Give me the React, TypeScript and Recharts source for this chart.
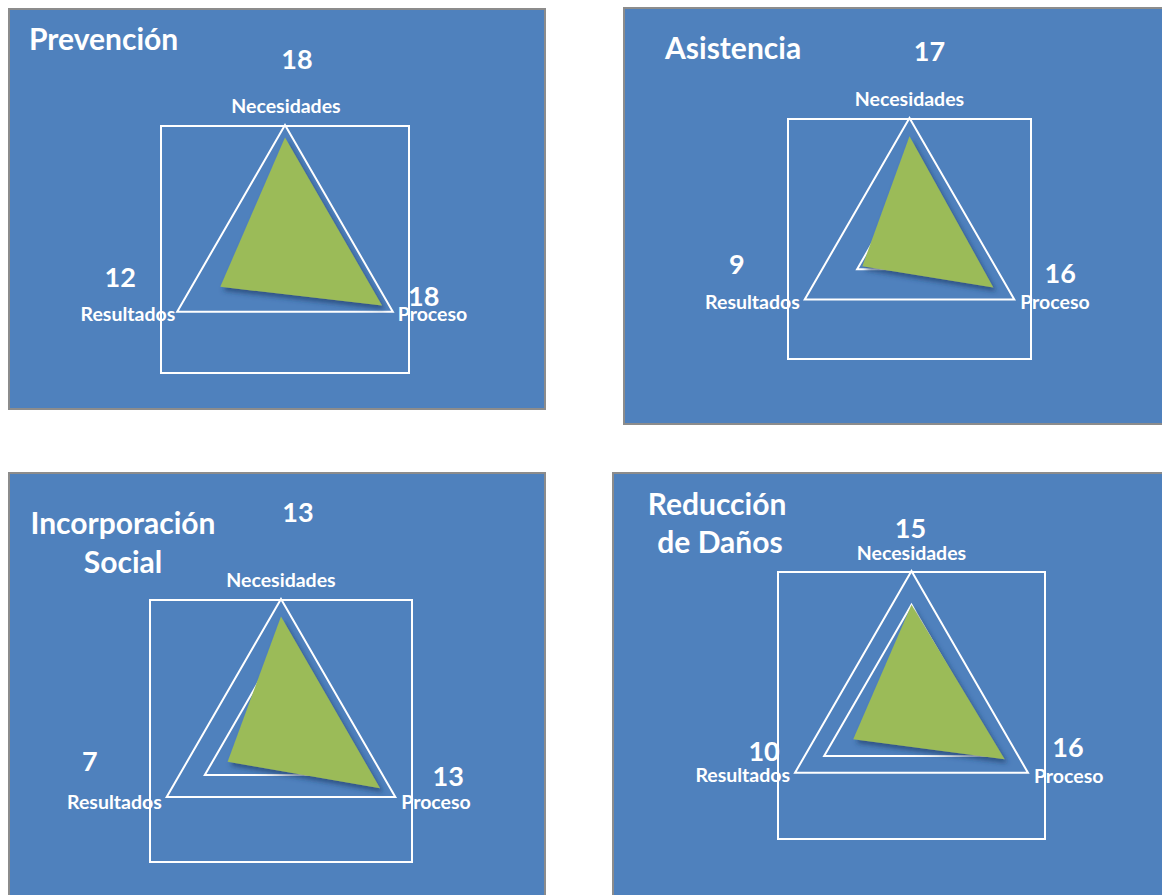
import React from 'react';
import { RadarChart, Radar, PolarGrid, PolarAngleAxis, PolarRadiusAxis } from 'recharts';

// ---------- DATA ----------
const categories = ['Necesidades', 'Proceso', 'Resultados'];

const prevencionValues = [18, 18, 12];
const asistenciaValues = [17, 16, 9];
const incorporacionValues = [13, 13, 7];
const reduccionValues = [15, 16, 10];

const prevencionTitle = ['Prevención'];
const asistenciaTitle = ['Asistencia'];
const incorporacionTitle = ['Incorporación', 'Social'];
const reduccionTitle = ['Reducción', 'de Daños'];

const prevencionTicks = [10, 20];
const asistenciaTicks = [10, 20];
const incorporacionTicks = [10, 15];
const reduccionTicks = [15, 20];

// ---------- STYLE / LAYOUT ----------
const BLUE = '#4F81BD';
const GREEN = '#9BBB59';
const FONT = 'Lato, "Open Sans", sans-serif';

type Off = { dx: number; dy: number };
type PanelLayout = {
  left: number; top: number; width: number; height: number;
  frame: { x: number; y: number; w: number; h: number };
  titleLines: { x: number; y: number; anchor: 'start' | 'middle' }[];
  labelOff: Off[];
  valueOff: Off[];
};

const anchors: ('middle' | 'start' | 'end')[] = ['middle', 'start', 'end'];

const layoutA: PanelLayout = {
  left: 8, top: 8, width: 538, height: 402,
  frame: { x: 160, y: 125, w: 250, h: 249 },
  titleLines: [{ x: 29, y: 38, anchor: 'start' }],
  labelOff: [{ dx: 1, dy: -12 }, { dx: -2, dy: -2 }, { dx: 5, dy: -2 }],
  valueOff: [{ dx: 12, dy: -59 }, { dx: 24, dy: -20 }, { dx: -50, dy: -39 }],
};
const layoutB: PanelLayout = {
  left: 623, top: 7, width: 560, height: 418,
  frame: { x: 787, y: 118, w: 245, h: 242 },
  titleLines: [{ x: 665, y: 47, anchor: 'start' }],
  labelOff: [{ dx: 0, dy: -12 }, { dx: -1, dy: -2 }, { dx: 2, dy: -2 }],
  valueOff: [{ dx: 20, dy: -60 }, { dx: 39, dy: -31 }, { dx: -61, dy: -40 }],
};
const layoutC: PanelLayout = {
  left: 8, top: 472, width: 538, height: 440,
  frame: { x: 149, y: 599, w: 264, h: 264 },
  titleLines: [{ x: 123, y: 522, anchor: 'middle' }, { x: 123, y: 561, anchor: 'middle' }],
  labelOff: [{ dx: 0, dy: -12 }, { dx: -1, dy: 0 }, { dx: 2, dy: 0 }],
  valueOff: [{ dx: 17, dy: -80 }, { dx: 46, dy: -26 }, { dx: -70, dy: -41 }],
};
const layoutD: PanelLayout = {
  left: 612, top: 472, width: 570, height: 440,
  frame: { x: 777, y: 571, w: 269, h: 269 },
  titleLines: [{ x: 717, y: 503, anchor: 'middle' }, { x: 720, y: 541, anchor: 'middle' }],
  labelOff: [{ dx: 0, dy: -11 }, { dx: -1, dy: -1 }, { dx: 2, dy: -2 }],
  valueOff: [{ dx: -1, dy: -36 }, { dx: 33, dy: -30 }, { dx: -24, dy: -26 }],
};

type PanelProps = {
  values: number[];
  title: string[];
  ticks: number[];
  layout: PanelLayout;
};

function Panel({ values, title, ticks, layout }: PanelProps) {
  const data = categories.map((c, i) => ({ category: c, value: values[i] }));
  const { left, top, width, height, frame } = layout;
  const cx = frame.x + frame.w / 2 - left;
  const cy = frame.y + frame.h / 2 - top;
  const R = Math.min(frame.w, frame.h) / 2;
  const max = ticks[ticks.length - 1];

  const renderTick = (props: any) => {
    const { x, y, payload } = props;
    const idx = categories.indexOf(payload.value);
    const lo = layout.labelOff[idx];
    const vo = layout.valueOff[idx];
    return (
      <g>
        <text
          x={x + lo.dx}
          y={y + lo.dy}
          textAnchor={anchors[idx]}
          dominantBaseline="central"
          fill="#FFFFFF"
          fontFamily={FONT}
          fontWeight={700}
          fontSize={19.5}
        >
          {payload.value}
        </text>
        <text
          x={x + vo.dx}
          y={y + vo.dy}
          textAnchor="middle"
          dominantBaseline="central"
          fill="#FFFFFF"
          fontFamily={FONT}
          fontWeight={700}
          fontSize={27}
        >
          {values[idx]}
        </text>
      </g>
    );
  };

  return (
    <div
      style={{
        position: 'absolute',
        left,
        top,
        width,
        height,
        background: BLUE,
        border: '2px solid #8C8C8C',
        boxSizing: 'border-box',
      }}
    >
      <div
        style={{
          position: 'absolute',
          left: frame.x - left - 2,
          top: frame.y - top - 2,
          width: frame.w,
          height: frame.h,
          border: '2px solid #FFFFFF',
          boxSizing: 'border-box',
        }}
      />
      <div style={{ position: 'absolute', left: -2, top: -2 }}>
        <RadarChart
          width={width}
          height={height}
          data={data}
          cx={cx}
          cy={cy}
          outerRadius={R}
          startAngle={90}
          endAngle={-270}
          margin={{ top: 0, right: 0, bottom: 0, left: 0 }}
          style={{ overflow: 'visible' }}
        >
          <PolarGrid gridType="polygon" radialLines={false} stroke="#FFFFFF" strokeWidth={2} strokeOpacity={1} />
          <PolarRadiusAxis
            type="number"
            domain={[0, max]}
            ticks={ticks}
            angle={90}
            tick={false}
            axisLine={false}
            tickLine={false}
          />
          <PolarAngleAxis dataKey="category" tick={renderTick} tickLine={false} axisLine={false} />
          <Radar
            dataKey="value"
            fill={GREEN}
            fillOpacity={1}
            stroke="none"
            filter="url(#greenShadow)"
            isAnimationActive={false}
          />
        </RadarChart>
      </div>
      <svg
        width={width}
        height={height}
        style={{ position: 'absolute', left: -2, top: -2, pointerEvents: 'none' }}
      >
        {title.map((t, i) => (
          <text
            key={t}
            x={layout.titleLines[i].x - left}
            y={layout.titleLines[i].y - top}
            textAnchor={layout.titleLines[i].anchor}
            dominantBaseline="central"
            fill="#FFFFFF"
            fontFamily={FONT}
            fontWeight={700}
            fontSize={30}
          >
            {t}
          </text>
        ))}
      </svg>
    </div>
  );
}

export default function App() {
  return (
    <div
      style={{
        position: 'absolute',
        left: 0,
        top: 0,
        width: 1162,
        height: 895,
        overflow: 'hidden',
        background: '#FFFFFF',
      }}
    >
      <svg width={0} height={0} style={{ position: 'absolute' }}>
        <defs>
          <filter id="greenShadow" x="-20%" y="-20%" width="140%" height="140%">
            <feDropShadow dx={3} dy={4} stdDeviation={2.5} floodColor="#1B3866" floodOpacity={0.65} />
          </filter>
        </defs>
      </svg>
      <Panel values={prevencionValues} title={prevencionTitle} ticks={prevencionTicks} layout={layoutA} />
      <Panel values={asistenciaValues} title={asistenciaTitle} ticks={asistenciaTicks} layout={layoutB} />
      <Panel values={incorporacionValues} title={incorporacionTitle} ticks={incorporacionTicks} layout={layoutC} />
      <Panel values={reduccionValues} title={reduccionTitle} ticks={reduccionTicks} layout={layoutD} />
    </div>
  );
}
